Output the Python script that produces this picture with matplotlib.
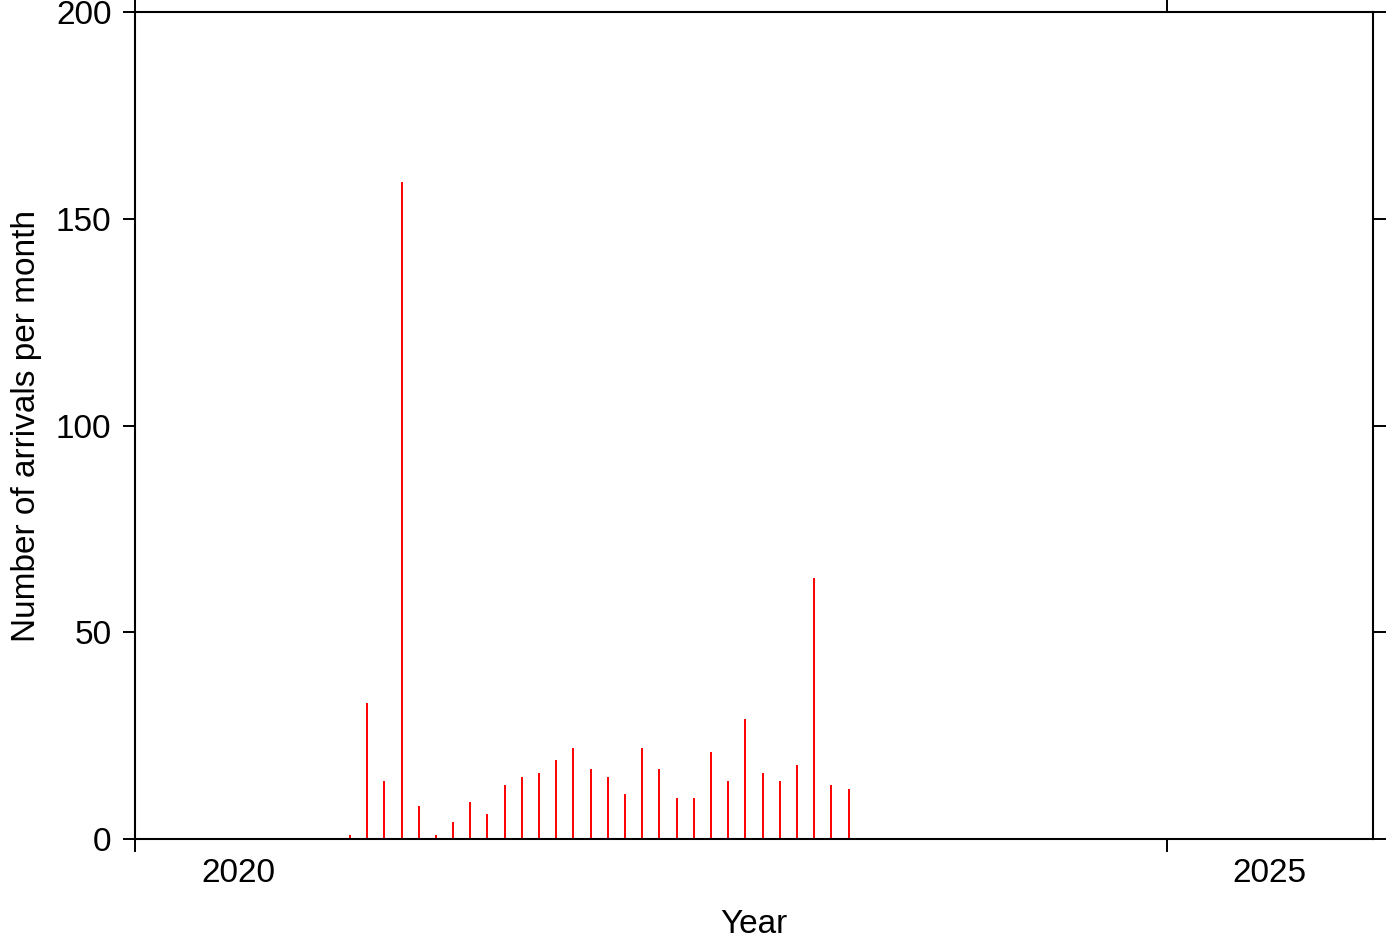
import matplotlib
matplotlib.use("Agg")
import matplotlib.pyplot as plt
from matplotlib.ticker import FixedLocator, NullFormatter, FixedFormatter

plt.rcParams['font.family'] = ['Liberation Sans', 'DejaVu Sans']

# Monthly arrival counts (year, month, count)
years = [2021]*12 + [2022]*12 + [2023]*6
months = list(range(1, 13)) + list(range(1, 13)) + list(range(1, 7))
counts = [1, 33, 14, 159, 8, 1, 4, 9, 6, 13, 15, 16,
          19, 22, 17, 15, 11, 22, 17, 10, 10, 21, 14, 29,
          16, 14, 18, 63, 13, 12]

x_label_years = ["2020", "2025"]
y_ticks = [0, 50, 100, 150, 200]

xpos = [y + (m - 0.5) / 12.0 for y, m in zip(years, months)]

fig = plt.figure(figsize=(13.87, 9.42), dpi=100)
ax = fig.add_axes([135/1387, 1 - 839/942, (1373-135)/1387, (839-12)/942])

ax.vlines(xpos, 0, counts, colors='#ff0000', linewidth=1.4)

ax.set_xlim(2020, 2026)
ax.set_ylim(0, 200)

ax.xaxis.set_major_locator(FixedLocator([2020, 2025]))
ax.xaxis.set_major_formatter(NullFormatter())
ax.xaxis.set_minor_locator(FixedLocator([2020.5, 2025.5]))
ax.xaxis.set_minor_formatter(FixedFormatter(x_label_years))
ax.set_yticks(y_ticks)
ax.set_yticklabels([str(v) for v in y_ticks])

fs = 24
ax.tick_params(axis='both', which='major', direction='out', length=9, width=1.4,
               top=True, right=True, labelsize=fs, pad=8)
ax.tick_params(axis='x', which='minor', length=0, labelsize=fs, pad=14)
ax.tick_params(axis='x', which='major', pad=14)

for s in ax.spines.values():
    s.set_linewidth(1.5)

ax.set_xlabel("Year", fontsize=fs, labelpad=14)
ax.set_ylabel("Number of arrivals per month", fontsize=fs, labelpad=10)

fig.savefig("out.png", dpi=100)
